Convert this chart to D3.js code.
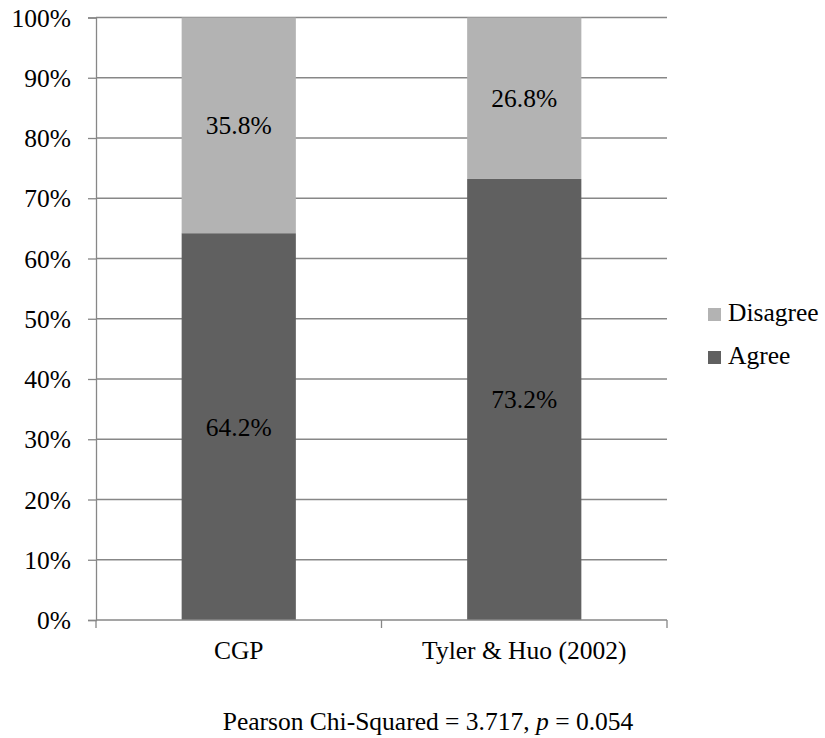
<!DOCTYPE html>
<html>
<head>
<meta charset="utf-8">
<script src="https://cdn.jsdelivr.net/npm/d3@7"></script>
<style>
  body { margin: 0; background: #fff; }
  svg text { font-family: 'Liberation Serif', Tinos, 'Times New Roman', Times, 'DejaVu Serif', serif; fill: #000; }
</style>
</head>
<body>
<svg id="chart" width="825" height="738"></svg>
<script>
const categories = ["CGP", "Tyler & Huo (2002)"];
const agree = [64.2, 73.2];
const disagree = [35.8, 26.8];
const yTicks = [0, 10, 20, 30, 40, 50, 60, 70, 80, 90, 100];
const seriesNames = ["Agree", "Disagree"];
const seriesColors = ["#606060", "#b3b3b3"];
const caption = "Pearson Chi-Squared = 3.717, ";

(function () {
const svg = d3.select("#chart");
const FONT = "'Liberation Serif', Tinos, 'Times New Roman', Times, 'DejaVu Serif', serif";
const mLeft = 96, mRight = 667, mTop = 17.5, mBottom = 620;
const fs = 25.5;

const x = d3.scaleBand().domain(categories).range([mLeft, mRight]).paddingInner(0.6).paddingOuter(0.3);
const y = d3.scaleLinear().domain([0, 100]).range([mBottom, mTop]);

const grid = "#878787";

svg.append("g").selectAll("line").data(yTicks.filter(t => t > 0)).join("line")
  .attr("x1", mLeft).attr("x2", mRight)
  .attr("y1", d => y(d)).attr("y2", d => y(d))
  .attr("stroke", grid).attr("stroke-width", 1.3);

const rows = categories.map((c, i) => ({ cat: c, Agree: agree[i], Disagree: disagree[i] }));
const stack = d3.stack().keys(seriesNames)(rows);
const color = d3.scaleOrdinal().domain(seriesNames).range(seriesColors);

svg.append("g").selectAll("g").data(stack).join("g")
  .attr("fill", d => color(d.key))
  .selectAll("rect").data(d => d).join("rect")
  .attr("x", d => x(d.data.cat))
  .attr("width", x.bandwidth())
  .attr("y", d => y(d[1]))
  .attr("height", d => y(d[0]) - y(d[1]));

svg.append("g").selectAll("g").data(stack).join("g")
  .selectAll("text").data(d => d.map(v => ({ v, key: d.key }))).join("text")
  .attr("x", d => x(d.v.data.cat) + x.bandwidth() / 2)
  .attr("y", d => (y(d.v[0]) + y(d.v[1])) / 2 + 9)
  .attr("text-anchor", "middle")
  .attr("font-size", fs)
  .text(d => d3.format(".1f")(d.v.data[d.key]) + "%");

const yAxis = svg.append("g").attr("transform", `translate(${mLeft},0)`)
  .call(d3.axisLeft(y).tickValues(yTicks).tickSize(8).tickPadding(17).tickFormat(d => d + "%"));
yAxis.attr("font-family", null).attr("font-size", null);
yAxis.select(".domain").attr("stroke", grid).attr("stroke-width", 1.3);
yAxis.selectAll(".tick line").attr("stroke", grid).attr("stroke-width", 1.3);
yAxis.selectAll(".tick text").attr("font-size", fs).attr("fill", "#000").attr("dy", "0.34em");

const xg = svg.append("g");
xg.append("line").attr("x1", mLeft).attr("x2", mRight).attr("y1", mBottom).attr("y2", mBottom)
  .attr("stroke", grid).attr("stroke-width", 1.3);
const step = x.step();
const edges = d3.range(categories.length + 1).map(i => x.range()[0] + i * step);
xg.selectAll("line.t").data(edges).join("line").attr("class", "t")
  .attr("x1", d => d).attr("x2", d => d).attr("y1", mBottom).attr("y2", mBottom + 8)
  .attr("stroke", grid).attr("stroke-width", 1.3);
xg.selectAll("text").data(categories).join("text")
  .attr("x", d => x(d) + x.bandwidth() / 2)
  .attr("y", 659)
  .attr("text-anchor", "middle")
  .attr("font-size", fs)
  .text(d => d);

const legendItems = ["Disagree", "Agree"];
const lg = svg.append("g");
legendItems.forEach((k, i) => {
  const yy = 308 + i * 43;
  lg.append("rect").attr("x", 708).attr("y", yy).attr("width", 13).attr("height", 13).attr("fill", color(k));
  lg.append("text").attr("x", 728).attr("y", yy + 12.5).attr("font-size", fs).text(k);
});

const cap = svg.append("text").attr("x", 428).attr("y", 730).attr("text-anchor", "middle").attr("font-size", fs);
cap.append("tspan").text(caption);
cap.append("tspan").attr("font-style", "italic").text("p");
cap.append("tspan").text(" = 0.054");

svg.selectAll("text").style("font-family", FONT);
})();
</script>
</body>
</html>
